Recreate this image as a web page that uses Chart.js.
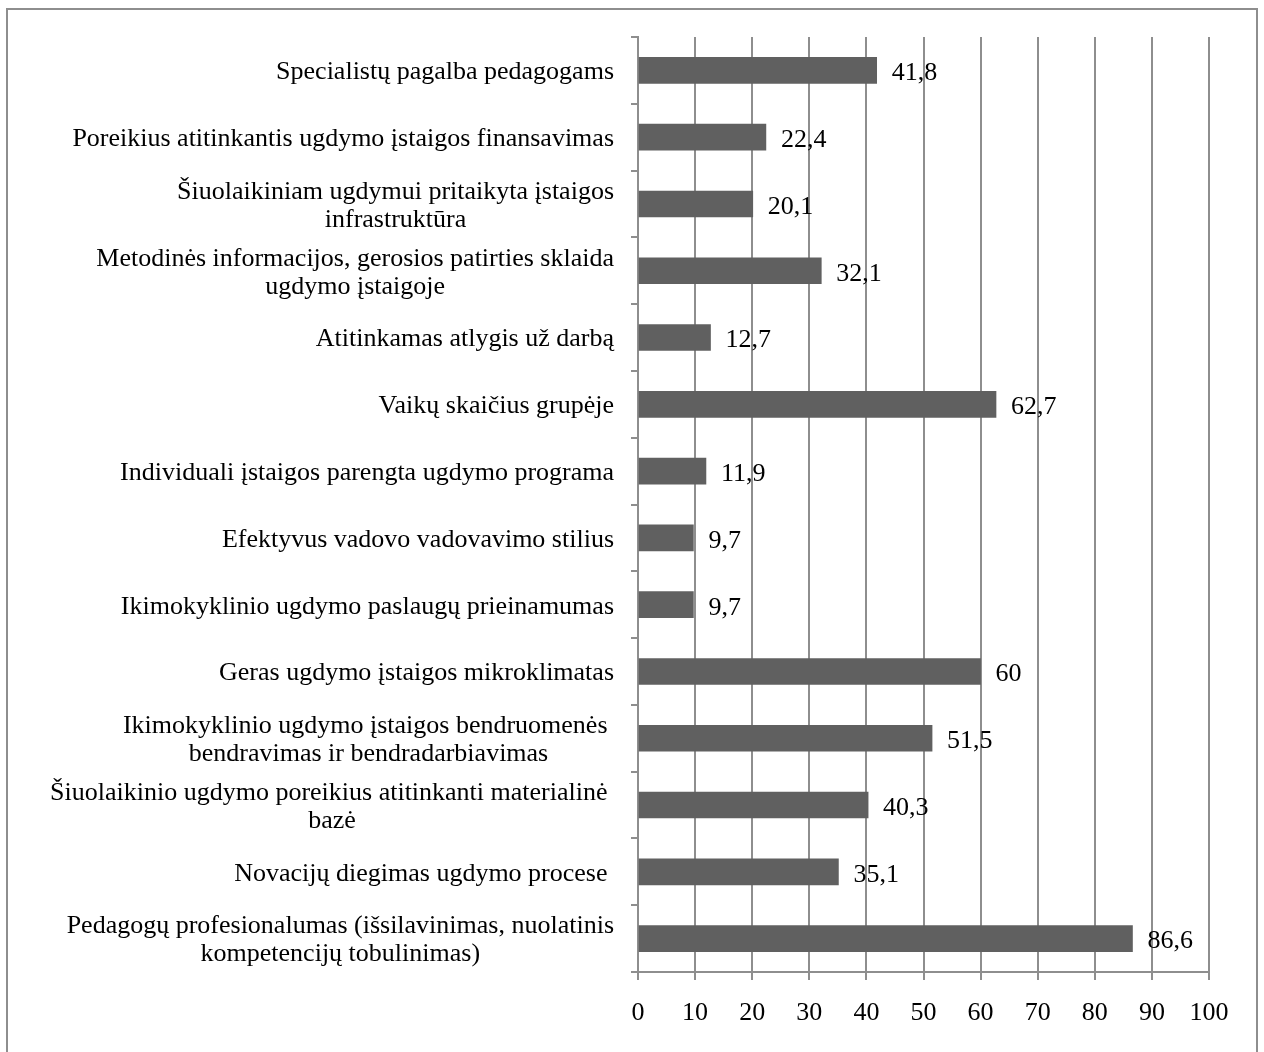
<!DOCTYPE html>
<html>
<head>
<meta charset="utf-8">
<script src="https://cdn.jsdelivr.net/npm/chart.js@4.4.0/dist/chart.umd.min.js"></script>
<style>
  body { margin: 0; background: #fff; }
  #frame { position: absolute; left: 6px; top: 8px; width: 1248px; height: 1100px; border: 2px solid #8e8e8e; }
  #chart { position: absolute; left: 0; top: 0; }
</style>
</head>
<body>
<div id="frame"></div>
<canvas id="chart" width="1264" height="1052"></canvas>
<script>
// categories (top to bottom), multi-line ones split as in the source
const categories = [
    ["Specialistų pagalba pedagogams"],
    ["Poreikius atitinkantis ugdymo įstaigos finansavimas"],
    ["Šiuolaikiniam ugdymui pritaikyta įstaigos", "infrastruktūra"],
    ["Metodinės informacijos, gerosios patirties sklaida", "ugdymo įstaigoje"],
    ["Atitinkamas atlygis už darbą"],
    ["Vaikų skaičius grupėje"],
    ["Individuali įstaigos parengta ugdymo programa"],
    ["Efektyvus vadovo vadovavimo stilius"],
    ["Ikimokyklinio ugdymo paslaugų prieinamumas"],
    ["Geras ugdymo įstaigos mikroklimatas"],
    ["Ikimokyklinio ugdymo įstaigos bendruomenės ", "bendravimas ir bendradarbiavimas"],
    ["Šiuolaikinio ugdymo poreikius atitinkanti materialinė ", "bazė"],
    ["Novacijų diegimas ugdymo procese "],
    ["Pedagogų profesionalumas (išsilavinimas, nuolatinis", "kompetencijų tobulinimas)"]
];
const values = [41.8, 22.4, 20.1, 32.1, 12.7, 62.7, 11.9, 9.7, 9.7, 60, 51.5, 40.3, 35.1, 86.6];
const xTicks = [0, 10, 20, 30, 40, 50, 60, 70, 80, 90, 100];

const FONT = '"Liberation Serif", "Times New Roman", serif';
const GRID = '#8e8e8e';

// category labels: block right-aligned, lines centered to each other
const categoryLabels = {
    id: 'categoryLabels',
    afterDraw(chart) {
        const ctx = chart.ctx;
        const y = chart.scales.y;
        const right = 614;
        const lh = 28;
        ctx.save();
        ctx.font = '26px ' + FONT;
        ctx.fillStyle = '#000';
        ctx.textAlign = 'center';
        ctx.textBaseline = 'middle';
        categories.forEach((lines, i) => {
            const w = Math.max(...lines.map(l => ctx.measureText(l).width));
            const cx = right - w / 2;
            const cy = y.getPixelForValue(i) + 2;
            lines.forEach((l, k) => {
                ctx.fillText(l, cx, cy + (k - (lines.length - 1) / 2) * lh);
            });
        });
        ctx.restore();
    }
};

// value labels right of each bar
const valueLabels = {
    id: 'valueLabels',
    afterDatasetsDraw(chart) {
        const ctx = chart.ctx;
        const meta = chart.getDatasetMeta(0);
        ctx.save();
        ctx.font = '26px ' + FONT;
        ctx.fillStyle = '#000';
        ctx.textAlign = 'left';
        ctx.textBaseline = 'middle';
        meta.data.forEach((bar, i) => {
            ctx.fillText(String(values[i]).replace('.', ','), bar.x + 15, bar.y + 3);
        });
        ctx.restore();
    }
};

new Chart(document.getElementById('chart'), {
    type: 'bar',
    data: {
        labels: categories.map(c => c.join(' ')),
        datasets: [{
            data: values,
            backgroundColor: '#606060',
            borderWidth: 0,
            barThickness: 26
        }]
    },
    options: {
        indexAxis: 'y',
        responsive: false,
        animation: false,
        layout: { padding: { top: 37, right: 55, bottom: 0, left: 0 } },
        plugins: {
            legend: { display: false },
            tooltip: { enabled: false }
        },
        scales: {
            x: {
                min: 0,
                max: 100,
                afterBuildTicks: s => { s.ticks = xTicks.map(v => ({ value: v })); },
                afterFit: s => { s.height = 80; },
                grid: { color: GRID, lineWidth: 2, tickLength: 8 },
                border: { color: GRID, width: 2 },
                ticks: {
                    font: { family: FONT, size: 26 },
                    color: '#000',
                    padding: 18,
                    maxRotation: 0
                }
            },
            y: {
                afterFit: s => { s.width = 638; },
                grid: { drawOnChartArea: false, color: GRID, lineWidth: 2, tickLength: 7, offset: true },
                border: { color: GRID, width: 2 },
                ticks: { display: false }
            }
        }
    },
    plugins: [categoryLabels, valueLabels]
});
</script>
</body>
</html>
